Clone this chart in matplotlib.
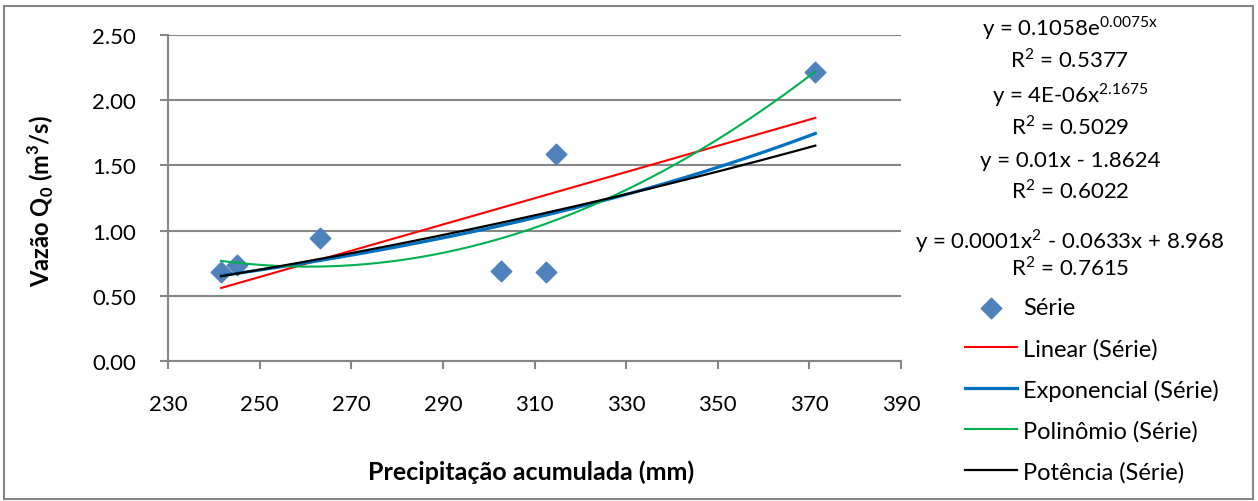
import numpy as np
import matplotlib.pyplot as plt
from matplotlib.patches import Rectangle

# data
precip = [241.6, 245.1, 263.2, 302.7, 312.5, 314.7, 371.3]
vazao = [0.68, 0.74, 0.94, 0.69, 0.68, 1.59, 2.22]

equations = ["y = 0.1058e$^{\\mathrm{0.0075x}}$", "R$^{\\mathrm{2}}$ = 0.5377",
             "y = 4E-06x$^{\\mathrm{2.1675}}$", "R$^{\\mathrm{2}}$ = 0.5029",
             "y = 0.01x - 1.8624", "R$^{\\mathrm{2}}$ = 0.6022",
             "y = 0.0001x$^{\\mathrm{2}}$ - 0.0633x + 8.968", "R$^{\\mathrm{2}}$ = 0.7615"]
eq_y = [28, 60, 95, 127, 161, 191, 241, 268]

plt.rcParams['font.family'] = 'Lato'
plt.rcParams['mathtext.fontset'] = 'custom'
plt.rcParams['mathtext.rm'] = 'Lato'
plt.rcParams['mathtext.bf'] = 'Lato:bold'
plt.rcParams['font.size'] = 16

grey = '#868686'

fig = plt.figure(figsize=(12.58, 5.02), dpi=100)
ax = fig.add_axes([168/1258, 1-362/502, (901-168)/1258, (362-36)/502])

x = np.array(precip)
y = np.array(vazao)
xs = np.linspace(x.min(), x.max(), 200)

# trendlines, fitted the way Excel does
lin = np.polyfit(x, y, 1)
pol = np.polyfit(x, y, 2)
ex = np.polyfit(x, np.log(y), 1)
pw = np.polyfit(np.log(x), np.log(y), 1)

ax.scatter(x, y, marker='D', s=110, color='#4F81BD', zorder=2, label='Série')
ax.plot(xs, np.polyval(lin, xs), color='#FF0000', lw=1.5, label='Linear (Série)', zorder=3)
ax.plot(xs, np.exp(np.polyval(ex, xs)), color='#0070C0', lw=2.3, label='Exponencial (Série)', zorder=3)
ax.plot(xs, np.polyval(pol, xs), color='#00B050', lw=1.5, label='Polinômio (Série)', zorder=3)
ax.plot(xs, np.exp(np.polyval(pw, np.log(xs))), color='black', lw=1.6, label='Potência (Série)', zorder=4)

ax.set_xlim(230, 390)
ax.set_ylim(0, 2.5)
ax.set_xticks(np.arange(230, 391, 20))
ax.set_yticks(np.arange(0, 2.51, 0.5))
ax.yaxis.set_major_formatter(plt.FormatStrFormatter('%.2f'))
ax.grid(axis='y', color=grey, lw=1.5)
ax.set_axisbelow(True)
for s in ['top', 'right']:
    ax.spines[s].set_visible(False)
for s in ['left', 'bottom']:
    ax.spines[s].set_color(grey)
    ax.spines[s].set_linewidth(1.5)
ax.tick_params(direction='out', length=5.8, width=1.5, color=grey)
ax.tick_params(axis='x', pad=18)
ax.tick_params(axis='y', pad=17)

ax.set_xlabel('Precipitação acumulada (mm)', fontweight='bold', fontsize=18)
ax.set_ylabel('Vazão Q$_{\\mathbf{0}}$ (m$^{\\mathbf{3}}$/s)', fontweight='bold', fontsize=17)
ax.xaxis.set_label_coords((531-168)/733, (362-460)/326)
ax.yaxis.set_label_coords((56-168)/733, (362-201)/326)

for t, yy in zip(equations, eq_y):
    fig.text(1070/1258, 1-yy/502, t, ha='center', va='center', fontsize=16)

handles, labels = ax.get_legend_handles_labels()
leg = fig.legend(handles, labels, loc='upper left', bbox_to_anchor=(944/1258, 1-277/502),
                 frameon=False, fontsize=17, handlelength=2.2, labelspacing=0.82,
                 handletextpad=0.25)

fig.patches.append(Rectangle((0.003, 0.004), 0.993, 0.982, transform=fig.transFigure,
                             fill=False, edgecolor=grey, lw=1.5))

fig.savefig('out.png', dpi=100)
